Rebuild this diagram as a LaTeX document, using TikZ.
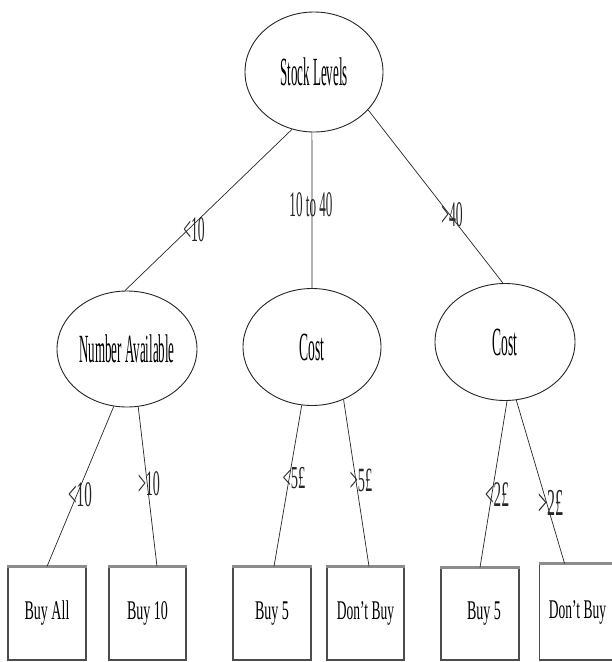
\documentclass[tikz,border=0pt]{standalone}
\usepackage{fontspec}
\setmainfont{Liberation Serif}
\usepackage{graphicx}
\usetikzlibrary{shapes.geometric}
\newcommand{\condtext}[3]{\scalebox{#1}[1]{\fontsize{#2}{#2}\selectfont #3}}
\begin{document}
\begin{tikzpicture}[x=1pt,y=-1pt,
  decision/.style={ellipse, draw=black!85, line width=0.9pt, inner sep=0pt},
  leaf/.style={rectangle, draw=black!70, line width=1.1pt, minimum width=78pt, minimum height=93pt, inner sep=0pt},
  edgeline/.style={line width=0.7pt, black!85},
  elabel/.style={inner sep=0pt, text=black!85},
  topedge/.style={line width=2.4pt, black!45}
]
\useasboundingbox[fill=white] (0,0) rectangle (612,662);

% decision nodes
\node[decision, minimum width=138pt, minimum height=120pt] (sl) at (314,72) {\condtext{0.325}{40}{Stock Levels}};
\node[decision, minimum width=140pt, minimum height=116pt] (na) at (127,349) {\condtext{0.325}{40}{Number Available}};
\node[decision, minimum width=138pt, minimum height=117pt] (c1) at (312,347) {\condtext{0.34}{40}{Cost}};
\node[decision, minimum width=140pt, minimum height=117pt] (c2) at (505,342) {\condtext{0.34}{40}{Cost}};

% leaves
\node[leaf] (b1) at (47,613.5) {\condtext{0.52}{27}{Buy All}};
\node[leaf, minimum width=77pt] (b2) at (147.5,613.5) {\condtext{0.52}{27}{Buy 10}};
\node[leaf] (b3) at (272,613.5) {\condtext{0.52}{27}{Buy 5}};
\node[leaf, minimum width=77pt] (b4) at (365.5,613.5) {\condtext{0.5}{27}{Don't Buy}};
\node[leaf, minimum height=92pt] (b5) at (480,614) {\hspace*{8pt}\condtext{0.52}{27}{Buy 5}};
\node[leaf, minimum height=96pt, minimum width=82pt, anchor=west] (b6) at (539,612) {\hspace*{-6pt}\condtext{0.5}{27}{Don't Buy}};

\foreach \b in {b1,b2,b3,b4,b5,b6}
  \draw[topedge] (\b.north west) -- (\b.north east);

% connectors
\draw[edgeline] (sl.-111) -- (na.92);
\draw[edgeline] (sl.-92) -- (c1.north);
\draw[edgeline] (sl.-35) -- (c2.92);
\draw[edgeline] (na.-103) -- (b1.north);
\draw[edgeline] (na.-79.5) -- ([xshift=9.5pt]b2.north);
\draw[edgeline] (c1.-100) -- ([xshift=2pt]b3.north);
\draw[edgeline] (c1.-59) -- ([xshift=3.5pt]b4.north);
\draw[edgeline] (c2.-88) -- (b5.north);
\draw[edgeline] (c2.-79) -- ([xshift=-16pt]b6.north);

% edge labels
\node[elabel] (l1) at (194,230) {\condtext{0.38}{36}{<10}};
\node[elabel] (l2) at (311,205) {\condtext{0.365}{36}{10 to 40}};
\node[elabel] (l3) at (452,215) {\condtext{0.38}{36}{>40}};
\node[elabel] (l4) at (80,495) {\condtext{0.42}{36}{<10}};
\node[elabel] (l5) at (149,484) {\condtext{0.39}{36}{>10}};
\node[elabel] (l6) at (294,478) {\condtext{0.45}{32}{<5£}};
\node[elabel] (l7) at (361,480) {\condtext{0.42}{34}{>5£}};
\node[elabel] (l8) at (497,495) {\condtext{0.42}{36}{<2£}};
\node[elabel] (l9) at (551,503) {\condtext{0.42}{38}{>2£}};
\end{tikzpicture}
\end{document}
